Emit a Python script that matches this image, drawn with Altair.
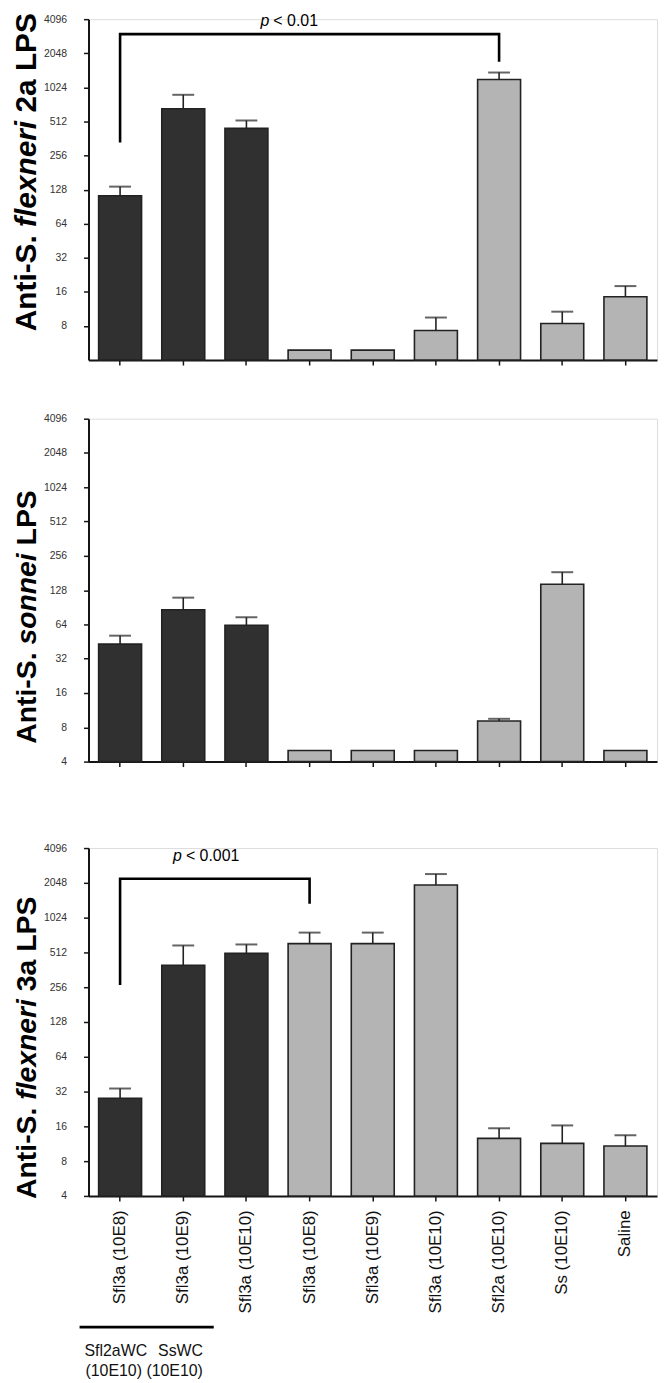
import json
import altair as alt
import pandas as pd

# ---------------- data ----------------
labels = ["Sfl3a (10E8)", "Sfl3a (10E9)", "Sfl3a (10E10)",
          "Sfl3a (10E8)", "Sfl3a (10E9)", "Sfl3a (10E10)",
          "Sfl2a (10E10)", "Ss (10E10)", "Saline"]
groups = ["dark", "dark", "dark", "light", "light", "light", "light", "light", "light"]

top_mean = [113, 663, 445, 4.9, 4.9, 7.3, 1200, 8.4, 14.5]
top_err = [136, 880, 522, None, None, 9.5, 1384, 10.7, 18]

mid_mean = [43, 86, 63, 5.0, 5.0, 5.0, 9.1, 144, 5.0]
mid_err = [51, 110, 74, None, None, None, 9.5, 184, None]

bot_mean = [28, 396, 502, 610, 610, 1960, 12.6, 11.4, 10.8]
bot_err = [34, 588, 600, 760, 760, 2440, 15.4, 16.3, 13.4]

ticks_all = [4, 8, 16, 32, 64, 128, 256, 512, 1024, 2048, 4096]
ticks_top = [8, 16, 32, 64, 128, 256, 512, 1024, 2048, 4096]

# brackets: (from bar, to bar, top value, left leg end, right leg end)
top_bracket = (0, 6, 3023, 333, 1723)
bot_bracket = (0, 3, 2223, 267, 1351)

# ---------------- styling ----------------
FONT = "Liberation Sans"
W = 572
DARK_FILL, LIGHT_FILL = "#303030", "#b4b4b4"
INK = "#141414"
TITLE_X = -53

# Arial-bold advance widths (per 1000 em) for title layout
CW = {"A": 722, "n": 611, "t": 333, "i": 278, "-": 333, "S": 667, ".": 278, " ": 278,
      "f": 333, "l": 278, "e": 556, "x": 556, "r": 389, "s": 556, "o": 611,
      "2": 556, "3": 556, "a": 556, "L": 611, "P": 667}


def tw(s, size):
    return sum(CW[c] for c in s) * size / 1000.0


def panel(mean, err, H, tvals, show_labels, title_parts, tsize, tstart,
          bracket=None, ptxt=None):
    df = pd.DataFrame({"idx": list(range(9)), "mean": mean, "grp": groups})
    edf = pd.DataFrame({"idx": [i for i in range(9) if err[i] is not None],
                        "mean": [mean[i] for i in range(9) if err[i] is not None],
                        "err": [err[i] for i in range(9) if err[i] is not None]})

    xenc = alt.X("idx:O",
                 scale=alt.Scale(domain=list(range(9)), paddingInner=0.32, paddingOuter=0.16),
                 axis=alt.Axis(title=None, labels=show_labels,
                               labelExpr=json.dumps(labels) + "[datum.value]",
                               labelAngle=-90, labelFontSize=17, labelColor="#111",
                               labelPadding=9, tickSize=5, tickWidth=1.5, tickColor=INK,
                               domainColor=INK, domainWidth=2, labelFont=FONT))
    ysc = alt.Scale(type="log", base=2, domain=[4, 4096], nice=False)
    yenc = alt.Y("mean:Q", scale=ysc,
                 axis=alt.Axis(title=None, values=tvals, format="d", labelFontSize=10.5,
                               labelColor="#333", labelPadding=17, tickSize=5,
                               tickWidth=1.5, tickColor=INK, domainColor=INK,
                               domainWidth=2, grid=False, labelFont=FONT))

    bars = alt.Chart(df).mark_bar(stroke="#222", strokeWidth=1.6).encode(
        x=xenc, y=yenc, y2=alt.datum(4),
        fill=alt.Fill("grp:N", scale=alt.Scale(domain=["dark", "light"],
                                               range=[DARK_FILL, LIGHT_FILL]), legend=None))
    stem = alt.Chart(edf).mark_rule(color="#222", strokeWidth=1.6).encode(
        x="idx:O", y="mean:Q", y2="err:Q")
    cap = alt.Chart(edf).mark_tick(color="#222", thickness=2, size=22).encode(
        x="idx:O", y="err:Q")
    layers = [bars, stem, cap]

    if bracket is not None:
        a, b, top, la, lb = bracket
        bdf = pd.DataFrame({"idx": [a, a, b, b], "mean": [la, top, top, lb],
                            "o": [0, 1, 2, 3]})
        layers.append(alt.Chart(bdf).mark_line(color="#000", strokeWidth=2.6,
                                               strokeJoin="miter", strokeCap="butt").encode(
            x="idx:O", y="mean:Q", order="o:Q"))

    if ptxt is not None:
        px, py, rest = ptxt
        one = pd.DataFrame({"k": [0]})
        layers.append(alt.Chart(one).mark_text(text="p", fontStyle="italic", fontSize=16,
                                               align="right", baseline="middle",
                                               font=FONT, color="#000").encode(
            x=alt.value(px), y=alt.value(py)))
        layers.append(alt.Chart(one).mark_text(text=rest, fontSize=16, align="left",
                                               baseline="middle", font=FONT,
                                               color="#000").encode(
            x=alt.value(px + 4), y=alt.value(py)))

    # y title built from pieces (mixed italic)
    one = pd.DataFrame({"k": [0]})
    ypos = tstart
    for txt, style in title_parts:
        kw = dict(text=txt, angle=270, align="left", baseline="alphabetic",
                  fontSize=tsize, fontWeight="bold", font=FONT, color="#000")
        if style == "italic":
            kw["fontStyle"] = "italic"
        layers.append(alt.Chart(one).mark_text(**kw).encode(
            x=alt.value(TITLE_X), y=alt.value(ypos)))
        ypos -= tw(txt, tsize) + tw(" ", tsize)

    return alt.layer(*layers).properties(width=W, height=H)


top = panel(top_mean, top_err, 343, ticks_top, False,
            [("Anti-S.", "normal"), ("flexneri", "italic"), ("2a LPS", "normal")],
            30, 314, bracket=top_bracket, ptxt=(182, 2, "< 0.01"))
mid = panel(mid_mean, mid_err, 345, ticks_all, False,
            [("Anti-S.", "normal"), ("sonnei", "italic"), ("LPS", "normal")],
            28.5, 327)
bot = panel(bot_mean, bot_err, 350, ticks_all, True,
            [("Anti-S.", "normal"), ("flexneri", "italic"), ("3a LPS", "normal")],
            28.5, 353, bracket=bot_bracket, ptxt=(94, 8, "< 0.001"))

one = pd.DataFrame({"k": [0]})
under = alt.Chart(one).mark_rule(color="#000", strokeWidth=3).encode(
    x=alt.value(-9), x2=alt.value(126), y=alt.value(482))
g1 = alt.Chart(one).mark_text(text="Sfl2aWC", fontSize=16, align="right",
                              baseline="middle", font=FONT, color="#111").encode(
    x=alt.value(59), y=alt.value(506))
g2 = alt.Chart(one).mark_text(text="SsWC", fontSize=16, align="left",
                              baseline="middle", font=FONT, color="#111").encode(
    x=alt.value(70), y=alt.value(506))
g3 = alt.Chart(one).mark_text(text="(10E10) (10E10)", fontSize=16, align="center",
                              baseline="middle", font=FONT, color="#111").encode(
    x=alt.value(56), y=alt.value(526))
bot = alt.layer(bot, under, g1, g2, g3)

chart = alt.vconcat(alt.vconcat(top, mid, spacing=46), bot, spacing=74).properties(
    padding={"left": 3, "top": 0, "right": 0, "bottom": 0}
).configure_view(stroke=None).configure(font=FONT)

chart.save("out.html", embed_options={"renderer": "svg", "actions": False})
